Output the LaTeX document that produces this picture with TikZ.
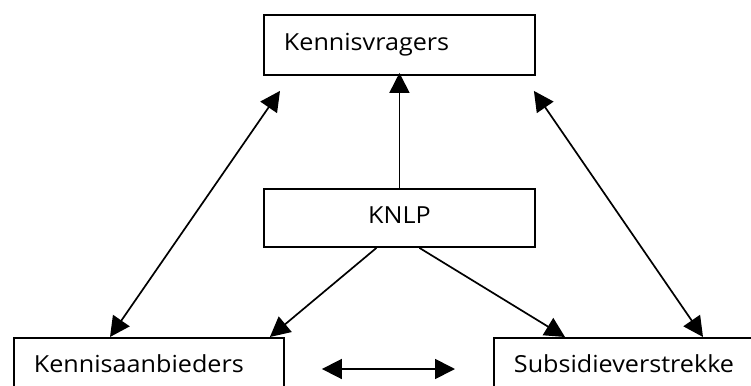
\documentclass[tikz,border=0pt]{standalone}
\usepackage{fontspec}
\setmainfont[FakeStretch=1.07]{Open Sans}
\usetikzlibrary{arrows.meta}
\tikzset{
  boxnode/.style={draw, line width=1.9pt, inner xsep=20pt, inner ysep=0pt, align=left, font=\fontsize{23.5}{28}\selectfont},
  conn/.style={line width=1.7pt, -{Triangle[length=20pt,width=20pt]}},
  dconn/.style={line width=1.7pt, {Triangle[length=20pt,width=20pt]}-{Triangle[length=20pt,width=20pt]}}
}
\begin{document}
\begin{tikzpicture}[x=1pt,y=-1pt]
\useasboundingbox (0,0) rectangle (751,385);
\clip (0,0) rectangle (751,385);
\node[boxnode, anchor=north west, text width=231pt, text height=36pt, text depth=24pt] (top) at (263,14) {Kennisvragers};
\node[boxnode, anchor=north west, text width=231pt, text height=35pt, text depth=23pt, align=center] (knlp) at (263,188) {KNLP};
\node[boxnode, anchor=north west, text width=230pt, text height=35pt, text depth=30pt] (bl) at (13,337) {Kennisaanbieders};
\node[boxnode, anchor=north west, text width=260pt, text height=35pt, text depth=30pt] (br) at (493,337) {Subsidieverstrekke};
\draw[conn] (knlp.north) -- ([yshift=3pt]top.south);
\draw[dconn] ([xshift=97pt]bl.north west) -- ([shift={(17,15)}]top.south west);
\draw[dconn] ([xshift=210pt]br.north west) -- ([shift={(-2,15)}]top.south east);
\draw[conn] ([xshift=-23pt]knlp.south) -- ([xshift=-15pt]bl.north east);
\draw[conn] ([xshift=20pt]knlp.south) -- ([xshift=72pt]br.north west);
\draw[dconn] ([shift={(37,32)}]bl.north east) -- ([shift={(-38,32)}]br.north west);
\end{tikzpicture}
\end{document}
